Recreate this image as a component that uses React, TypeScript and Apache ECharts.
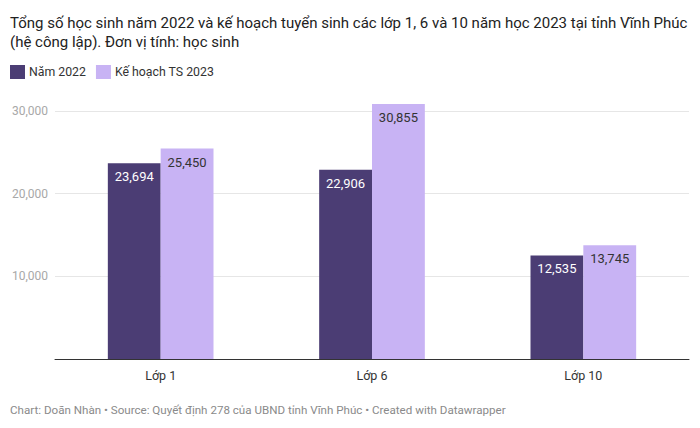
import React, { useEffect, useRef } from "react";
import * as echarts from "echarts";

const categories = ["Lớp 1", "Lớp 6", "Lớp 10"];
const nam2022 = [23694, 22906, 12535];
const keHoach2023 = [25450, 30855, 13745];
const seriesNames = ["Năm 2022", "Kế hoạch TS 2023"];
const titleText =
  "Tổng số học sinh năm 2022 và kế hoạch tuyển sinh các lớp 1, 6 và 10 năm học 2023 tại tỉnh Vĩnh Phúc\n(hệ công lập). Đơn vị tính: học sinh";
const footerText =
  "Chart: Doãn Nhàn • Source: Quyết định 278 của UBND tỉnh Vĩnh Phúc • Created with Datawrapper";

const fmt = (v: number) => String(v).replace(/\B(?=(\d{3})+(?!\d))/g, ",");

export default function App() {
  const ref = useRef<HTMLDivElement>(null);
  useEffect(() => {
    if (!ref.current) return;
    const chart = echarts.init(ref.current, null, { renderer: "svg" });
    const font = "Roboto, 'Noto Sans', sans-serif";
    chart.setOption({
      animation: false,
      backgroundColor: "#ffffff",
      textStyle: { fontFamily: font },
      title: {
        text: titleText,
        left: 10,
        top: 13,
        padding: 0,
        textStyle: {
          fontFamily: font,
          fontSize: 15,
          fontWeight: "normal",
          color: "#222222",
          lineHeight: 19,
        },
      },
      legend: {
        left: 10,
        top: 65,
        padding: 0,
        icon: "rect",
        itemWidth: 15,
        itemHeight: 14,
        itemGap: 10,
        textStyle: { fontFamily: font, fontSize: 12.3, color: "#333333", padding: [0, 0, 0, -1] },
        data: seriesNames,
      },
      grid: { left: 55, right: 11, top: 111, bottom: 69, containLabel: false },
      xAxis: {
        type: "category",
        data: categories,
        axisLine: { lineStyle: { color: "#333333", width: 1 } },
        axisTick: { show: false },
        axisLabel: { fontFamily: font, fontSize: 12.5, color: "#333333", margin: 10 },
      },
      yAxis: {
        type: "value",
        min: 0,
        max: 30000,
        interval: 10000,
        axisLine: { show: false },
        axisTick: { show: false },
        splitLine: { lineStyle: { color: "#e6e6e6", width: 1 } },
        axisLabel: {
          fontFamily: font,
          fontSize: 12,
          color: "#a8a8a8",
          margin: 7,
          showMinLabel: false,
          formatter: (v: number) => fmt(v),
        },
      },
      series: [
        {
          name: seriesNames[0],
          type: "bar",
          data: nam2022,
          clip: false,
          barGap: "0%",
          barCategoryGap: "50%",
          itemStyle: { color: "#4b3d74" },
          label: {
            show: true,
            position: "insideTop",
            distance: 7,
            fontFamily: font,
            fontSize: 13,
            color: "#ffffff",
            formatter: (p: any) => fmt(p.value),
          },
        },
        {
          name: seriesNames[1],
          type: "bar",
          data: keHoach2023,
          clip: false,
          barGap: "0%",
          barCategoryGap: "50%",
          itemStyle: { color: "#c8b3f4" },
          label: {
            show: true,
            position: "insideTop",
            distance: 7,
            fontFamily: font,
            fontSize: 13,
            color: "#333333",
            formatter: (p: any) => fmt(p.value),
          },
        },
      ],
      graphic: [
        {
          type: "text",
          left: 10,
          top: 404,
          style: {
            text: footerText,
            fontFamily: font,
            fontSize: 11.6,
            fill: "#8a8a8a",
          },
        },
      ],
    });
    return () => chart.dispose();
  }, []);
  return (
    <div
      ref={ref}
      style={{ position: "fixed", left: 0, top: 0, width: 700, height: 428 }}
    />
  );
}
